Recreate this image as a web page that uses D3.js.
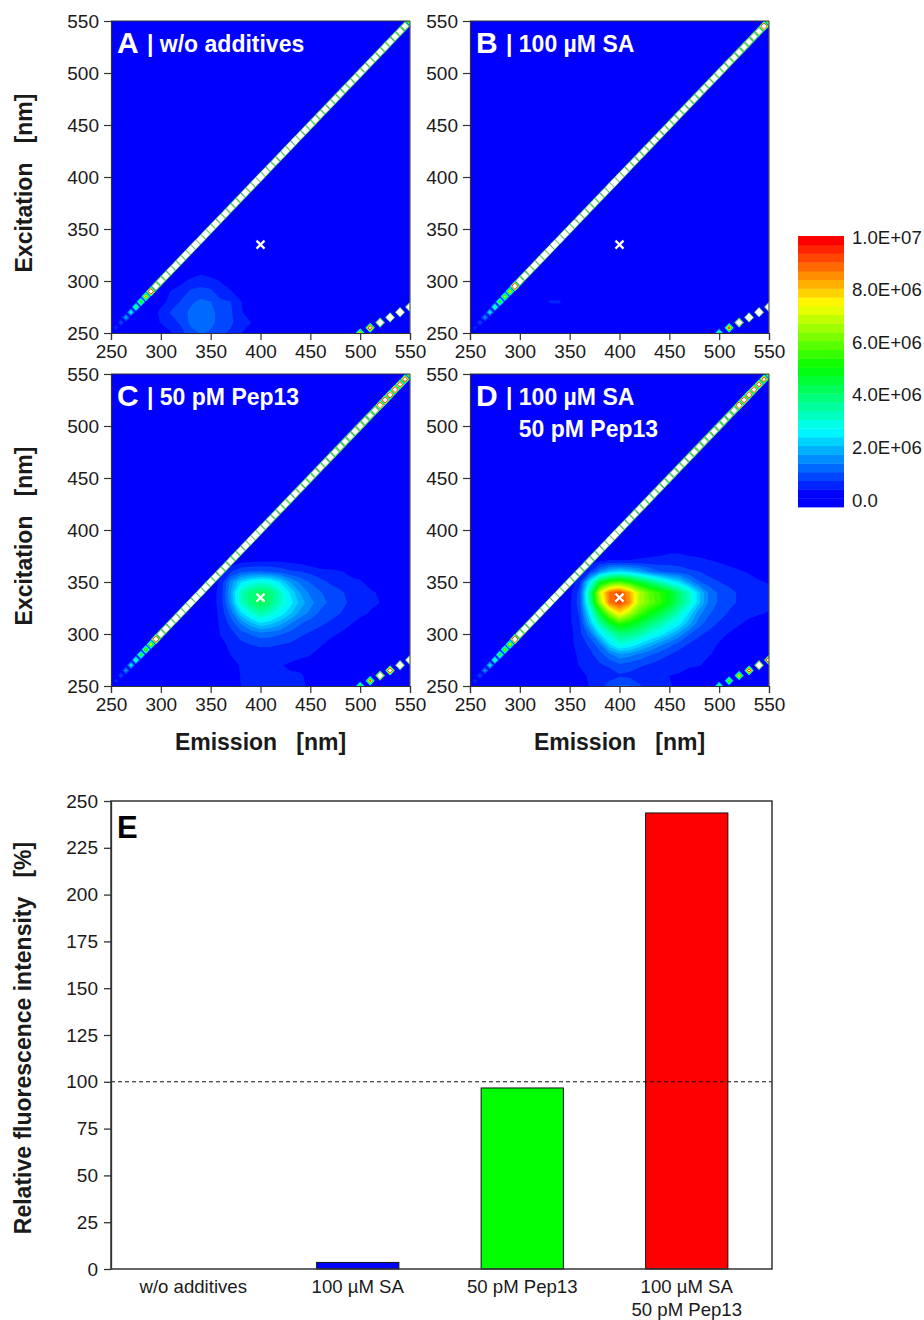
<!DOCTYPE html>
<html><head><meta charset="utf-8">
<script src="https://cdn.jsdelivr.net/npm/d3@7/dist/d3.min.js"></script>
<style>
html,body{margin:0;padding:0;background:#fff}
svg{display:block}
text{font-family:"Liberation Sans",Arial,sans-serif;fill:#1a1a1a;white-space:pre}
</style></head><body>
<svg id="c" width="924" height="1320"></svg>
<script>
// ---------- DATA (fluorescence in units of 1e5 counts) ----------
const axisTicks = [250,300,350,400,450,500,550];
const legendLabels = [[0,"0.0"],[2e6,"2.0E+06"],[4e6,"4.0E+06"],[6e6,"6.0E+06"],[8e6,"8.0E+06"],[1e7,"1.0E+07"]];
const nBands = 31;
const scale = 1e5;

const emCols = [280,290,300,310,320,330,340,350,360,370,380,390,400,410,420,430,440,450,460,470,480,490,500,510,520,530,540,550];
const exRows = [380,370,360,350,340,330,320,310,300,290,280,270,260,250];

const blobA = [
[0,0,0,0,0,0,0,0,0,0,0,0,0,0,0,0,0,0,0,0,0,0,0,0,0,0,0,0],
[0,0,0,0,0,0,0,0,0,0,0,0,0,0,0,0,0,0,0,0,0,0,0,0,0,0,0,0],
[0,0,0,0,0,0,0,0,0,0,0,0,0,0,0,0,0,0,0,0,0,0,0,0,0,0,0,0],
[0,0,0,0,0,0,0,0,0,0,0,0,0,0,0,0,0,0,0,0,0,0,0,0,0,0,0,0],
[0,0,0,0,0,0,0,0,0,0,0,0,0,0,0,0,0,0,0,0,0,0,0,0,0,0,0,0],
[0,0,0,0,0,0,0,0,0,0,0,0,0,0,0,0,0,0,0,0,0,0,0,0,0,0,0,0],
[0,0,0,0,0,0,0,0,0,0,0,0,0,0,0,0,0,0,0,0,0,0,0,0,0,0,0,0],
[0,0,0,0,0,1,2,1,0,0,0,0,0,0,0,0,0,0,0,0,0,0,0,0,0,0,0,0],
[0,0,0,1,2.5,4,5,4.5,3,1,0,0,0,0,0,0,0,0,0,0,0,0,0,0,0,0,0,0],
[0,0,1,3.4,4.5,7,7.5,7,5,3.5,1.5,0,0,0,0,0,0,0,0,0,0,0,0,0,0,0,0,0],
[0,0.5,2.5,3.8,6.8,9,10.5,9.8,7,6.6,3.5,1,0,0,0,0,0,0,0,0,0,0,0,0,0,0,0,0],
[0,2,3.8,6.8,8,10.5,12,11,8,7,3.8,1,0,0,0,0,0,0,0,0,0,0,0,0,0,0,0,0],
[0,1.5,3.4,5,7,10.5,12,11,8,7,5,3.4,0,0,0,0,0,0,0,0,0,0,0,0,0,0,0,0],
[0,0,1,3,5,8.5,10,9,7,6,3.5,1.5,0,0,0,0,0,0,0,0,0,0,0,0,0,0,0,0]];

const blobB = [
[0,0,0,0,0,0,0,0,0,0,0,0,0,0,0,0,0,0,0,0,0,0,0,0,0,0,0,0],
[0,0,0,0,0,0,0,0,0,0,0,0,0,0,0,0,0,0,0,0,0,0,0,0,0,0,0,0],
[0,0,0,0,0,0,0,0,0,0,0,0,0,0,0,0,0,0,0,0,0,0,0,0,0,0,0,0],
[0,0,0,0,0,0,0,0,0,0,0,0,0,0,0,0,0,0,0,0,0,0,0,0,0,0,0,0],
[0,0,0,0,0,0,0,0,0,0,0,0,0,0,0,0,0,0,0,0,0,0,0,0,0,0,0,0],
[0,0,0,0,0,0,0,0,0,0,0,0,0,0,0,0,0,0,0,0,0,0,0,0,0,0,0,0],
[0,0,0,0,0,0,0,0,0,0,0,0,0,0,0,0,0,0,0,0,0,0,0,0,0,0,0,0],
[0,0,0,0,0,0,0,0,0,0,0,0,0,0,0,0,0,0,0,0,0,0,0,0,0,0,0,0],
[0,0,0,0,0,0,0,0,0,0,0,0,0,0,0,0,0,0,0,0,0,0,0,0,0,0,0,0],
[0,0,0,0,0,1,1,0,0,0,0,0,0,0,0,0,0,0,0,0,0,0,0,0,0,0,0,0],
[0,0,0,0,0,3.6,3.6,1,0,0,0,0,0,0,0,0,0,0,0,0,0,0,0,0,0,0,0,0],
[0,0,0,0,0,1,1,0,0,0,0,0,0,0,0,0,0,0,0,0,0,0,0,0,0,0,0,0],
[0,0,0,0,0,0,0,0,0,0,0,0,0,0,0,0,0,0,0,0,0,0,0,0,0,0,0,0],
[0,0,0,0,0,0,0,0,0,0,0,0,0,0,0,0,0,0,0,0,0,0,0,0,0,0,0,0]];

const blobC = [
[0,0,0,0,0,0,0,0,0,0,0,0,0,0,0,0,0,0,0,0,0,0,0,0,0,0,0,0],
[0,0,0,0,0,0,0,0,0.5,1,2,2.5,3,3,3,2.5,2,1,0,0,0,0,0,0,0,0,0,0],
[0,0,0,0,0,0,0,0,3.5,6,9,10,10,9.5,8.5,7,6.5,5.5,4.5,4,3.5,2.5,2,1,0,0,0,0],
[0,0,0,0,0,0,0,1,4,14,22,26,28,27,22,16,12,9.5,7.5,6,5,4,3.5,2.5,2,1,0,0],
[0,0,0,0,0,0,0,1.5,4.5,16,31,37,40,38,30,22,16,12,10,8,7,5.5,4.5,3.5,3,1,0,0],
[0,0,0,0,0,0,0,1.5,4.5,15,30,37,41,37,30,24,18,14,11,9,7.5,6,5,3.8,3.2,1,0,0],
[0,0,0,0,0,0,0,1.5,4,11,21,28,33,30,25,20,15,12,9,7.5,6.5,5,4,3,1.5,0,0,0],
[0,0,0,0,0,0,0,1,3.8,7.5,13,18,22,20,17,13,10,8,7,6,4.5,3.5,2,1,0,0,0,0],
[0,0,0,0,0,0,0,0.8,3.4,5,8,10,11.5,11,10,8.5,7,6,5,3.8,3,2,1,0,0,0,0,0],
[0,0,0,0,0,0,0,0.3,2.5,3.8,5.5,6.5,7,7,6.5,6,5,4,3.5,2.5,1.5,0.5,0,0,0,0,0,0],
[0,0,0,0,0,0,0,0,1.5,3.3,4,4.5,5,4.8,4.2,3.8,3.5,3.3,2.5,1.5,0.5,0,0,0,0,0,0,0],
[0,0,0,0,0,0,0,0,0.8,2.2,3.4,3.6,3.6,3.6,3.3,3,2.8,2.5,1.5,0.5,0,0,0,0,0,0,0,0],
[0,0,0,0,0,0,0,0,0,1.5,3.3,3.4,3.4,3.5,3.4,3.4,3.4,2.8,1,0,0,0,0,0,0,0,0,0],
[0,0,0,0,0,0,0,0,0,1.8,3.2,3.5,3.6,3.7,3.8,3.8,3.5,3,0.5,0,0,0,0,0,0,0,0,0]];

const blobD = [
[0,0,0,0,0,0,0,0,0,0,1,1,1,1,1,2,2,2.5,2.5,2,2,1,1,0,0,0,0,0],
[0,0,0,0,0,0,0,0,0,2,3,3.5,3.5,3.5,4,4,4.5,5,5,4.5,4,3.5,3,2.5,2,1,0,0],
[0,0,0,0,0,0,0,0,2,6,14,20,22,20,17,13,10,9,8,7,6.5,5,4.5,4,3.5,3,2,1],
[0,0,0,0,0,0,0,1,5,24,44,52,55,50,44,38,32,26,22,15,10,8,6.5,5.5,4.5,4,3.5,3],
[0,0,0,0,0,0,0,2,8,34,68,85,89,80,65,57,52,47,38,30,20,12,9,7.5,6,5,4.5,4],
[0,0,0,0,0,0,0,2.5,8,32,62,84,89,82,64,58,53,46,38,30,20,12,9,7.5,6,5,4.5,4],
[0,0,0,0,0,0,0,2.5,7,24,44,62,74,65,55,48,43,37,30,22,14,10,8,6,5,4,3.5,3],
[0,0,0,0,0,0,0,2.5,6,18,33,44,52,48,43,38,33,28,24,17,11,8,6,4.5,3.5,2.5,2,1],
[0,0,0,0,0,0,0,2,5.5,11,22,30,37,36,33,28,25,20,15,10,7,5.5,4,3,2,1,1,0],
[0,0,0,0,0,0,0,2,5,7,12,22,28,26,22,18,14,11,8,6,5,4,3,2,1,0,0,0],
[0,0,0,0,0,0,0,1.5,4,5.5,8,12,15,14,12,10,8,6.5,5,4.5,3.8,3.4,2.5,1,0,0,0,0],
[0,0,0,0,0,0,0,1,3.5,5,6,7,9,8,7,6,5,4.5,4,3.6,3.4,2,1,0,0,0,0,0],
[0,0,0,0,0,0,0,0.5,2,3.8,4.5,5,6,5.5,4.5,4,3.8,3.2,3,2,1,0,0,0,0,0,0,0],
[0,0,0,0,0,0,0,0,1,3.5,5,8,10,10,7,4.5,4,3.5,2.5,1,0,0,0,0,0,0,0,0]];

// Rayleigh diagonal, em = ex = 255..550 in 5 nm steps
const diagEm = [255,260,265,270,275,280,285,290,295,300,305,310,315,320,325,330,335,340,345,350,355,360,365,370,375,380,385,390,395,400,405,410,415,420,425,430,435,440,445,450,455,460,465,470,475,480,485,490,495,500,505,510,515,520,525,530,535,540,545,550];
const diagA = [7,10,20,30,48,62,95,190,300,380,420,470,520,560,600,650,700,650,600,560,520,480,450,420,400,420,470,520,600,680,520,450,420,470,520,580,580,520,470,440,420,400,420,440,420,400,400,420,440,440,420,440,420,400,400,380,360,330,280,110];
const diagB = [6,9,18,28,42,58,75,90,220,340,400,450,500,550,580,620,680,620,580,550,500,470,450,420,420,470,520,580,680,580,520,450,420,400,420,440,420,420,400,400,380,400,420,400,380,360,380,400,420,400,380,360,340,320,310,300,280,260,230,105];
const diagC = [6,9,18,28,40,55,70,85,220,320,380,420,480,500,560,600,640,600,540,500,450,420,420,400,420,450,530,600,640,530,450,420,400,380,400,420,400,380,360,360,340,360,360,360,320,300,300,320,340,320,280,260,250,230,220,210,200,190,170,100];
const diagD = [6,9,18,28,40,55,70,85,230,330,380,430,480,530,560,620,660,610,560,520,450,420,420,400,420,450,530,620,650,530,450,420,400,400,410,420,400,380,360,360,340,360,360,360,320,300,300,310,320,300,280,260,250,230,220,210,200,170,160,100];

// Second-order scatter, em = 2 x ex
const secondEm = [500,510,520,530,540,550];
const secondEx = [250,255,260,265,270,275];
const secondA = [90,150,340,450,520,450];
const secondB = [50,110,300,450,520,450];
const secondC = [60,100,250,180,380,450];
const secondD = [50,65,90,130,300,200];

// Off-scale scatter peaks: level and colour of the thin rim left around the white core
const offScaleCut = 240;
const rimLevels = [3,62];
const rimColors = ["#2fe860","#b8b878"];

const panelNames = ["A","B","C","D"];
const panelTitles = [["| w/o additives"],["| 100 µM SA"],["| 50 pM Pep13"],["| 100 µM SA","  50 pM Pep13"]];
const peakEm = 400, peakEx = 335;

const barCats = [["w/o additives"],["100 µM SA"],["50 pM Pep13"],["100 µM SA","50 pM Pep13"]];
const barVals = [0,3.5,96.7,243.6];
const barCols = ["#0000ff","#0000ff","#00ff00","#ff0000"];
const barTicks = [0,25,50,75,100,125,150,175,200,225,250];
const refLine = 100;

// ---------- DRAW ----------
const svg = d3.select("#c");
const rainbow = d3.scaleLinear().domain([0,.25,.5,.75,1]).range(["#0000ff","#00ffff","#00ff00","#ffff00","#ff0000"]);
const levelStep = 1e7/scale/nBands;
const thresholds = d3.range(1,nBands).map(k=>k*levelStep);
const bandColor = k=>rainbow(Math.max(0,(k-1)/(nBands-2)));
const axisCol = "#333";

const panels = [
 {x:111,y:21,blob:blobA,diag:diagA,sec:secondA},
 {x:470,y:21,blob:blobB,diag:diagB,sec:secondB},
 {x:111,y:374,blob:blobC,diag:diagC,sec:secondC},
 {x:470,y:374,blob:blobD,diag:diagD,sec:secondD}];
const pw=299, ph=312;
const defs = svg.append("defs");
defs.append("filter").attr("id","soft").append("feGaussianBlur").attr("stdDeviation",0.45);

panels.forEach((p,i)=>{
  const g = svg.append("g").attr("transform",`translate(${p.x},${p.y})`);
  const xS = d3.scaleLinear().domain([250,550]).range([0,pw]);
  const yS = d3.scaleLinear().domain([250,550]).range([ph,0]);
  defs.append("clipPath").attr("id","cp"+i).append("rect").attr("width",pw).attr("height",ph);
  const plot = g.append("g").attr("clip-path",`url(#cp${i})`);
  const inner = plot.append("g").attr("filter","url(#soft)");
  inner.append("rect").attr("x",-3).attr("y",-3).attr("width",pw+6).attr("height",ph+6).attr("fill","#0000ff");

  // broad fluorescence surface
  const bw=emCols.length, bh=exRows.length;
  const flat = p.blob.flat();
  const emStep=emCols[1]-emCols[0], exStep=exRows[0]-exRows[1];
  const pathB = d3.geoPath(d3.geoTransform({point(x,y){
    this.stream.point(xS(emCols[0]+(x-.5)*emStep), yS(exRows[0]-(y-.5)*exStep));}}));
  const conts = d3.contours().size([bw,bh]).thresholds(thresholds)(flat);
  inner.selectAll("path.b").data(conts).join("path").attr("class","b")
    .attr("d",pathB).attr("fill",(d,k)=>bandColor(k+2));

  // scatter lines on the 5 nm grid: on-scale peaks use every band, off-scale ones a thin rim
  const n=61, low=new Array(n*n).fill(0), high=new Array(n*n).fill(0), idx=v=>Math.round((v-250)/5);
  const put=(em,ex,v)=>{ (v>offScaleCut?high:low)[idx(ex)*n+idx(em)] = v; };
  diagEm.forEach((em,k)=>put(em,em,p.diag[k]));
  secondEm.forEach((em,k)=>put(em,secondEx[k],p.sec[k]));
  const pathS = d3.geoPath(d3.geoTransform({point(x,y){
    this.stream.point(xS(250+(x-.5)*5), yS(250+(y-.5)*5));}}));
  const top = 1e7/scale;
  const th2 = thresholds.concat([top]);
  inner.selectAll("path.s").data(d3.contours().size([n,n]).thresholds(th2)(low)).join("path").attr("class","s")
    .attr("d",pathS).attr("fill",(d,k)=> k===th2.length-1 ? "#fff" : bandColor(k+2));
  const th3 = rimLevels.concat([top]);
  inner.selectAll("path.h").data(d3.contours().size([n,n]).thresholds(th3)(high)).join("path").attr("class","h")
    .attr("d",pathS).attr("fill",(d,k)=> k===th3.length-1 ? "#fff" : rimColors[k]);

  // peak marker
  const cx=xS(peakEm), cy=yS(peakEx), r=4;
  plot.append("path").attr("d",`M${cx-r},${cy-r}L${cx+r},${cy+r}M${cx-r},${cy+r}L${cx+r},${cy-r}`)
    .attr("stroke","#fff").attr("stroke-width",2.2).attr("fill","none");

  // axes
  const ax = d3.axisBottom(xS).tickValues(axisTicks).tickSize(7).tickPadding(5).tickSizeOuter(7);
  const ay = d3.axisLeft(yS).tickValues(axisTicks).tickSize(7).tickPadding(5).tickSizeOuter(7);
  [g.append("g").attr("transform",`translate(0,${ph})`).call(ax), g.append("g").call(ay)].forEach(a=>{
    a.selectAll("path,line").attr("stroke",axisCol).attr("stroke-width",1.2);
    a.selectAll("text").attr("font-size",19).attr("fill","#1a1a1a");
  });
  g.append("line").attr("x1",0).attr("x2",pw).attr("y1",0).attr("y2",0).attr("stroke",axisCol).attr("stroke-width",1.2);
  g.append("line").attr("x1",pw).attr("x2",pw).attr("y1",0).attr("y2",ph).attr("stroke","#555").attr("stroke-width",1.2);

  // panel labels
  g.append("text").attr("x",6).attr("y",32).attr("font-size",30).attr("font-weight","bold").style("fill","#fff").text(panelNames[i]);
  panelTitles[i].forEach((t,j)=>{
    g.append("text").attr("x",36).attr("y",31+j*32).attr("font-size",23).attr("font-weight","bold").style("fill","#fff").text(t);
  });

  // axis titles
  if(i%2===0) g.append("text").attr("transform",`translate(-79,${ph/2+6}) rotate(-90)`)
    .attr("text-anchor","middle").attr("font-size",23).attr("font-weight","bold").text("Excitation   [nm]");
  if(i>=2) g.append("text").attr("x",pw/2).attr("y",ph+64).attr("text-anchor","middle")
    .attr("font-size",23).attr("font-weight","bold").text("Emission   [nm]");
});

// colour legend
const lg = svg.append("g");
const lb = d3.scaleBand().domain(d3.range(nBands)).range([507,236]);
lg.selectAll("rect").data(d3.range(nBands)).join("rect")
  .attr("x",798).attr("width",46).attr("y",k=>lb(k)).attr("height",lb.bandwidth()+.4)
  .attr("fill",k=>bandColor(k));
const ls = d3.scaleLinear().domain([0,1e7]).range([500,237]);
lg.selectAll("text").data(legendLabels).join("text")
  .attr("x",852).attr("y",d=>ls(d[0])).attr("dy","0.35em").attr("font-size",18.6).text(d=>d[1]);

// bar chart
const bx=111,by=801,bwid=661,bhei=468;
const gb = svg.append("g").attr("transform",`translate(${bx},${by})`);
const yB = d3.scaleLinear().domain([0,250]).range([bhei,0]);
const xB = d3.scaleBand().domain(d3.range(barVals.length)).range([0,658]).paddingInner(.5).paddingOuter(.25);
gb.selectAll("rect").data(barVals).join("rect")
  .attr("x",(d,i)=>xB(i)).attr("width",xB.bandwidth())
  .attr("y",d=>yB(d)).attr("height",d=>yB(0)-yB(d))
  .attr("fill",(d,i)=>barCols[i]).attr("stroke","#111").attr("stroke-width",1);
gb.append("line").attr("x1",0).attr("x2",bwid).attr("y1",yB(refLine)).attr("y2",yB(refLine))
  .attr("stroke","#111").attr("stroke-width",1.1).attr("stroke-dasharray","4,3");
const ayB = d3.axisLeft(yB).tickValues(barTicks).tickSize(7).tickPadding(6).tickSizeOuter(0);
const aG = gb.append("g").call(ayB);
aG.selectAll("path,line").attr("stroke",axisCol).attr("stroke-width",1.3);
aG.selectAll("text").attr("font-size",19).attr("fill","#1a1a1a");
gb.append("rect").attr("width",bwid).attr("height",bhei).attr("fill","none").attr("stroke",axisCol).attr("stroke-width",1.5);
barCats.forEach((lines,i)=>lines.forEach((t,j)=>{
  gb.append("text").attr("x",xB(i)+xB.bandwidth()/2).attr("y",bhei+24+j*23).attr("text-anchor","middle").attr("font-size",18.6).text(t);
}));
gb.append("text").attr("x",6).attr("y",37).attr("font-size",31).attr("font-weight","bold").style("fill","#000").text("E");
gb.append("text").attr("transform",`translate(-80,${bhei/2+3}) rotate(-90)`).attr("text-anchor","middle")
  .attr("font-size",23).attr("font-weight","bold").text("Relative fluorescence intensity   [%]");
</script>
</body></html>
